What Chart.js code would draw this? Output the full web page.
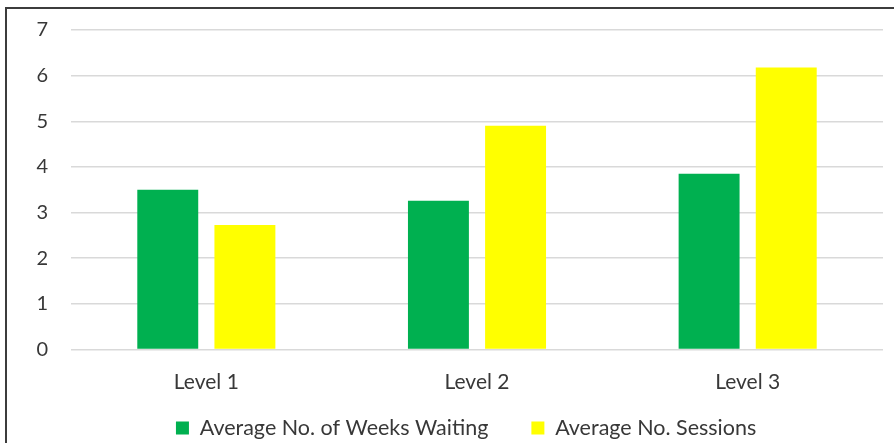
<!DOCTYPE html>
<html>
<head>
<meta charset="utf-8">
<script src="https://cdn.jsdelivr.net/npm/chart.js@4"></script>
<style>
  html, body { margin: 0; padding: 0; background: #fff; }
  #wrap { position: relative; width: 894px; height: 443px; overflow: hidden; }
  #frame { position: absolute; left: 5px; top: 7px; right: -10px; bottom: -10px;
           border-left: 2px solid #3c3c3c; border-top: 2px solid #3c3c3c; pointer-events: none; }
  canvas { position: absolute; left: 0; top: 0; }
</style>
</head>
<body>
<div id="wrap">
  <canvas id="chart" width="894" height="443"></canvas>
  <div id="frame"></div>
</div>
<script>
// Service levels and the two averages per level
const categories = ['Level 1', 'Level 2', 'Level 3'];
const weeksWaiting = [3.5, 3.26, 3.85];
const sessions = [2.73, 4.9, 6.18];
const seriesNames = ['Average No. of Weeks Waiting', 'Average No. Sessions'];
const yTicks = [0, 1, 2, 3, 4, 5, 6, 7];

const FONT = 'Lato';
const TEXT = '#383838';

// Move the legend row a little right and let it start higher up
const legendShift = {
  id: 'legendShift',
  afterLayout(chart) {
    const lg = chart.legend;
    if (lg) {
      lg.left += 24.6; lg.right += 24.6;
      lg.top -= 21.25;
    }
  }
};

new Chart(document.getElementById('chart'), {
  type: 'bar',
  data: {
    labels: categories,
    datasets: [
      { label: seriesNames[0], data: weeksWaiting, backgroundColor: '#00b050' },
      { label: seriesNames[1], data: sessions, backgroundColor: '#ffff00' }
    ]
  },
  options: {
    responsive: false,
    animation: false,
    layout: { padding: { top: 30, left: 0, right: 11, bottom: 0 } },
    datasets: { bar: { categoryPercentage: 0.57, barPercentage: 0.79 } },
    scales: {
      x: {
        grid: { display: false, drawTicks: false },
        border: { display: false },
        ticks: { color: TEXT, font: { family: FONT, size: 21 }, padding: 20 },
        afterFit(s) { s.height = 46; s.paddingLeft = 0; s.paddingRight = 0; }
      },
      y: {
        min: 0, max: 7,
        afterBuildTicks(s) { s.ticks = yTicks.map(v => ({ value: v })); },
        grid: { color: '#d9d9d9', lineWidth: 1.5, drawTicks: false },
        border: { display: false },
        ticks: { color: TEXT, font: { family: FONT, size: 20 }, padding: 23 },
        afterFit(s) { s.width = 71; s.paddingTop = 0; s.paddingBottom = 0; }
      }
    },
    plugins: {
      legend: {
        position: 'bottom',
        maxHeight: 47.5,
        labels: {
          color: TEXT, font: { family: FONT, size: 21.5 },
          boxWidth: 13, boxHeight: 13, padding: 43
        }
      },
      tooltip: { enabled: false }
    }
  },
  plugins: [legendShift]
});
</script>
</body>
</html>
